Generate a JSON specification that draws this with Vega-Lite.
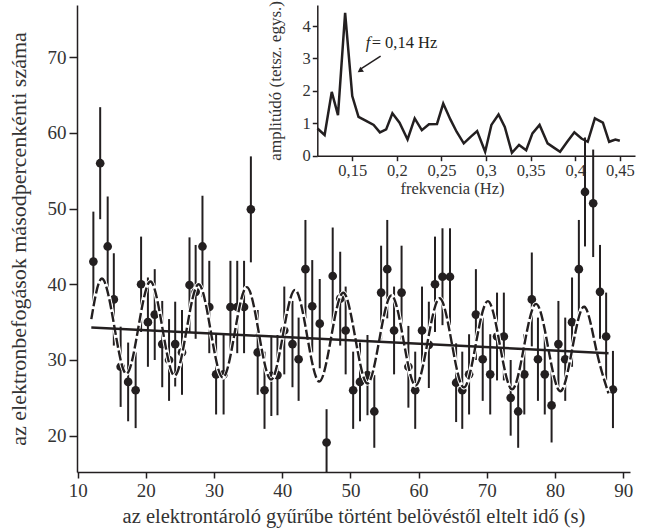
{
  "$schema": "https://vega.github.io/schema/vega-lite/v6.json",
  "width": 553,
  "height": 467,
  "autosize": {"type": "none"},
  "padding": {"left": 77, "top": 5, "right": 17, "bottom": 60},
  "background": "white",
  "datasets": {
    "pts": [
      {"t": 12.3, "n": 43.0, "lo": 36.4, "hi": 49.6},
      {"t": 13.3, "n": 56.0, "lo": 48.6, "hi": 63.4},
      {"t": 14.4, "n": 45.0, "lo": 38.4, "hi": 51.6},
      {"t": 15.3, "n": 38.0, "lo": 31.9, "hi": 44.1},
      {"t": 16.3, "n": 29.1, "lo": 23.8, "hi": 34.4},
      {"t": 17.4, "n": 27.1, "lo": 21.9, "hi": 32.3},
      {"t": 18.5, "n": 26.0, "lo": 21.0, "hi": 31.0},
      {"t": 19.3, "n": 40.0, "lo": 33.7, "hi": 46.3},
      {"t": 20.3, "n": 35.0, "lo": 29.1, "hi": 40.9},
      {"t": 21.3, "n": 36.0, "lo": 30.0, "hi": 42.0},
      {"t": 22.4, "n": 32.1, "lo": 26.4, "hi": 37.8},
      {"t": 23.4, "n": 30.0, "lo": 24.6, "hi": 35.4},
      {"t": 24.3, "n": 32.1, "lo": 26.5, "hi": 37.7},
      {"t": 25.3, "n": 31.0, "lo": 25.4, "hi": 36.6},
      {"t": 26.4, "n": 39.9, "lo": 33.6, "hi": 46.2},
      {"t": 27.3, "n": 39.0, "lo": 32.8, "hi": 45.2},
      {"t": 28.3, "n": 45.0, "lo": 38.3, "hi": 51.7},
      {"t": 29.3, "n": 37.0, "lo": 30.9, "hi": 43.1},
      {"t": 30.3, "n": 28.1, "lo": 22.8, "hi": 33.4},
      {"t": 31.4, "n": 28.1, "lo": 22.8, "hi": 33.4},
      {"t": 32.4, "n": 37.0, "lo": 30.9, "hi": 43.1},
      {"t": 33.4, "n": 37.0, "lo": 30.9, "hi": 43.1},
      {"t": 34.4, "n": 37.0, "lo": 30.9, "hi": 43.1},
      {"t": 35.4, "n": 49.9, "lo": 42.9, "hi": 56.9},
      {"t": 36.4, "n": 31.0, "lo": 25.4, "hi": 36.6},
      {"t": 37.4, "n": 26.0, "lo": 20.9, "hi": 31.1},
      {"t": 38.4, "n": 27.9, "lo": 22.6, "hi": 33.2},
      {"t": 39.3, "n": 28.0, "lo": 22.7, "hi": 33.3},
      {"t": 40.3, "n": 33.9, "lo": 28.1, "hi": 39.7},
      {"t": 41.5, "n": 32.1, "lo": 26.4, "hi": 37.8},
      {"t": 42.4, "n": 30.1, "lo": 24.6, "hi": 35.6},
      {"t": 43.4, "n": 42.0, "lo": 35.5, "hi": 48.5},
      {"t": 44.4, "n": 37.1, "lo": 31.0, "hi": 43.2},
      {"t": 45.5, "n": 34.8, "lo": 28.9, "hi": 40.7},
      {"t": 46.5, "n": 19.1, "lo": 14.7, "hi": 23.5},
      {"t": 47.4, "n": 41.1, "lo": 34.7, "hi": 47.5},
      {"t": 48.5, "n": 38.1, "lo": 31.9, "hi": 44.3},
      {"t": 49.3, "n": 33.9, "lo": 28.1, "hi": 39.7},
      {"t": 50.4, "n": 26.0, "lo": 20.9, "hi": 31.1},
      {"t": 51.4, "n": 27.1, "lo": 21.9, "hi": 32.3},
      {"t": 52.5, "n": 28.0, "lo": 22.7, "hi": 33.3},
      {"t": 53.5, "n": 23.2, "lo": 18.4, "hi": 28.0},
      {"t": 54.5, "n": 38.9, "lo": 32.7, "hi": 45.1},
      {"t": 55.4, "n": 42.0, "lo": 35.5, "hi": 48.5},
      {"t": 56.4, "n": 33.9, "lo": 28.1, "hi": 39.7},
      {"t": 57.5, "n": 38.9, "lo": 32.7, "hi": 45.1},
      {"t": 58.5, "n": 29.1, "lo": 23.7, "hi": 34.5},
      {"t": 59.5, "n": 26.0, "lo": 20.9, "hi": 31.1},
      {"t": 60.5, "n": 33.9, "lo": 28.1, "hi": 39.7},
      {"t": 61.5, "n": 32.0, "lo": 26.3, "hi": 37.7},
      {"t": 62.4, "n": 40.0, "lo": 33.7, "hi": 46.3},
      {"t": 63.5, "n": 41.0, "lo": 34.6, "hi": 47.4},
      {"t": 64.6, "n": 41.0, "lo": 34.6, "hi": 47.4},
      {"t": 65.5, "n": 27.0, "lo": 21.8, "hi": 32.2},
      {"t": 66.4, "n": 26.0, "lo": 20.9, "hi": 31.1},
      {"t": 67.4, "n": 28.1, "lo": 22.8, "hi": 33.4},
      {"t": 68.4, "n": 36.0, "lo": 30.0, "hi": 42.0},
      {"t": 69.4, "n": 30.1, "lo": 24.6, "hi": 35.6},
      {"t": 70.5, "n": 28.1, "lo": 22.8, "hi": 33.4},
      {"t": 71.5, "n": 33.1, "lo": 27.3, "hi": 38.9},
      {"t": 72.5, "n": 33.1, "lo": 27.3, "hi": 38.9},
      {"t": 73.5, "n": 25.0, "lo": 20.0, "hi": 30.0},
      {"t": 74.6, "n": 23.2, "lo": 18.4, "hi": 28.0},
      {"t": 75.5, "n": 28.1, "lo": 22.8, "hi": 33.4},
      {"t": 76.6, "n": 38.0, "lo": 31.8, "hi": 44.2},
      {"t": 77.5, "n": 30.1, "lo": 24.6, "hi": 35.6},
      {"t": 78.5, "n": 28.1, "lo": 22.8, "hi": 33.4},
      {"t": 79.5, "n": 24.0, "lo": 19.1, "hi": 28.9},
      {"t": 80.5, "n": 32.1, "lo": 26.4, "hi": 37.8},
      {"t": 81.5, "n": 30.1, "lo": 24.6, "hi": 35.6},
      {"t": 82.5, "n": 35.0, "lo": 29.1, "hi": 40.9},
      {"t": 83.5, "n": 42.0, "lo": 35.5, "hi": 48.5},
      {"t": 84.4, "n": 52.2, "lo": 45.0, "hi": 59.4},
      {"t": 85.6, "n": 50.7, "lo": 43.6, "hi": 57.8},
      {"t": 86.6, "n": 39.0, "lo": 32.8, "hi": 45.2},
      {"t": 87.5, "n": 33.1, "lo": 27.3, "hi": 38.9},
      {"t": 88.5, "n": 26.1, "lo": 21.0, "hi": 31.2}
    ],
    "curve": [
      {"t": 12.0, "n": 35.4}, {"t": 13.6, "n": 40.75}, {"t": 15.37, "n": 34.45}, {"t": 17.14, "n": 28.18},
      {"t": 18.9, "n": 34.29}, {"t": 20.67, "n": 40.37}, {"t": 22.44, "n": 34.14}, {"t": 24.2, "n": 27.93},
      {"t": 25.97, "n": 33.98}, {"t": 27.74, "n": 40.0}, {"t": 29.51, "n": 33.82}, {"t": 31.28, "n": 27.67},
      {"t": 33.04, "n": 33.66}, {"t": 34.81, "n": 39.62}, {"t": 36.58, "n": 33.51}, {"t": 38.35, "n": 27.41},
      {"t": 40.11, "n": 33.35}, {"t": 41.88, "n": 39.26}, {"t": 43.65, "n": 33.19}, {"t": 45.42, "n": 27.15},
      {"t": 47.18, "n": 33.03}, {"t": 48.95, "n": 38.89}, {"t": 50.72, "n": 32.88}, {"t": 52.49, "n": 26.9},
      {"t": 54.25, "n": 32.72}, {"t": 56.02, "n": 38.52}, {"t": 57.79, "n": 32.56}, {"t": 59.56, "n": 26.63},
      {"t": 61.32, "n": 32.41}, {"t": 63.09, "n": 38.15}, {"t": 64.86, "n": 32.25}, {"t": 66.63, "n": 26.38},
      {"t": 68.39, "n": 32.09}, {"t": 70.16, "n": 37.77}, {"t": 71.93, "n": 31.93}, {"t": 73.7, "n": 26.12},
      {"t": 75.46, "n": 31.78}, {"t": 77.23, "n": 37.41}, {"t": 79.0, "n": 31.62}, {"t": 80.77, "n": 25.86},
      {"t": 82.53, "n": 31.46}, {"t": 84.3, "n": 37.03}, {"t": 86.07, "n": 31.3}, {"t": 87.84, "n": 25.6}
    ],
    "trend": [
      {"t": 12.0, "n": 34.3},
      {"t": 87.85, "n": 30.9}
    ],
    "spec": [
      {"f": 0.111, "a": 0.84}, {"f": 0.119, "a": 0.64}, {"f": 0.127, "a": 1.97}, {"f": 0.134, "a": 1.25},
      {"f": 0.142, "a": 4.41}, {"f": 0.150, "a": 1.84}, {"f": 0.157, "a": 1.20}, {"f": 0.165, "a": 1.08},
      {"f": 0.174, "a": 0.95}, {"f": 0.181, "a": 0.72}, {"f": 0.188, "a": 0.81}, {"f": 0.195, "a": 1.31},
      {"f": 0.203, "a": 1.02}, {"f": 0.212, "a": 0.50}, {"f": 0.220, "a": 1.15}, {"f": 0.228, "a": 0.79},
      {"f": 0.236, "a": 0.97}, {"f": 0.245, "a": 0.98}, {"f": 0.252, "a": 1.61}, {"f": 0.260, "a": 1.12},
      {"f": 0.267, "a": 0.74}, {"f": 0.275, "a": 0.38}, {"f": 0.283, "a": 0.59}, {"f": 0.290, "a": 0.76},
      {"f": 0.299, "a": 0.12}, {"f": 0.306, "a": 0.95}, {"f": 0.314, "a": 1.27}, {"f": 0.321, "a": 0.89},
      {"f": 0.329, "a": 0.09}, {"f": 0.337, "a": 0.33}, {"f": 0.345, "a": 0.17}, {"f": 0.352, "a": 0.69},
      {"f": 0.360, "a": 0.95}, {"f": 0.369, "a": 0.38}, {"f": 0.376, "a": 0.25}, {"f": 0.383, "a": 0.12},
      {"f": 0.391, "a": 0.43}, {"f": 0.399, "a": 0.72}, {"f": 0.407, "a": 0.53}, {"f": 0.414, "a": 0.43},
      {"f": 0.422, "a": 1.15}, {"f": 0.431, "a": 1.02}, {"f": 0.438, "a": 0.43}, {"f": 0.445, "a": 0.50},
      {"f": 0.450, "a": 0.46}
    ],
    "ann": [
      {"f": 0.165, "a": 3.31, "f2": 0.1592, "a2": 2.67, "ft": 0.1818, "at": 3.07, "fh": 0.1586, "ah": 2.62}
    ]
  },
  "layer": [
    {
      "layer": [
        {
          "data": {"name": "pts"},
          "mark": {"type": "rule", "color": "#231f20", "strokeWidth": 2, "clip": true},
          "encoding": {
            "x": {"field": "t", "type": "quantitative", "scale": {"domain": [9.9, 91], "nice": false, "zero": false},
              "axis": {"values": [10, 20, 30, 40, 50, 60, 70, 80, 90], "title": "az elektrontároló gyűrűbe történt belövéstől eltelt idő (s)",
                "labelFont": "Liberation Serif", "titleFont": "Liberation Serif",
                "labelFontSize": 19, "titleFontSize": 20.5, "tickSize": 6, "labelPadding": 3, "titlePadding": 6, "labelFlush": false}},
            "y": {"field": "lo", "type": "quantitative", "scale": {"domain": [15.2, 76.9], "nice": false, "zero": false},
              "axis": {"values": [20, 30, 40, 50, 60, 70], "title": "az elektronbefogások másodpercenkénti száma",
                "labelFont": "Liberation Serif", "titleFont": "Liberation Serif",
                "labelFontSize": 19, "titleFontSize": 22, "tickSize": 8, "labelPadding": 3, "titlePadding": 17}},
            "y2": {"field": "hi"}
          }
        },
        {
          "data": {"name": "pts"},
          "mark": {"type": "point", "shape": "circle", "filled": true, "size": 75, "color": "#231f20", "opacity": 1},
          "encoding": {
            "x": {"field": "t", "type": "quantitative"},
            "y": {"field": "n", "type": "quantitative"}
          }
        },
        {
          "data": {"name": "curve"},
          "mark": {"type": "line", "interpolate": "natural", "color": "white", "strokeWidth": 4.5},
          "encoding": {
            "x": {"field": "t", "type": "quantitative"},
            "y": {"field": "n", "type": "quantitative"}
          }
        },
        {
          "data": {"name": "curve"},
          "mark": {"type": "line", "interpolate": "natural", "color": "#231f20", "strokeWidth": 2.4, "strokeDash": [10, 3]},
          "encoding": {
            "x": {"field": "t", "type": "quantitative"},
            "y": {"field": "n", "type": "quantitative"}
          }
        },
        {
          "data": {"name": "trend"},
          "mark": {"type": "line", "color": "#231f20", "strokeWidth": 2.5},
          "encoding": {
            "x": {"field": "t", "type": "quantitative"},
            "y": {"field": "n", "type": "quantitative"}
          }
        }
      ]
    },
    {
      "layer": [
        {
          "data": {"name": "spec"},
          "mark": {"type": "line", "color": "#231f20", "strokeWidth": 2.5},
          "encoding": {
            "x": {"field": "f", "type": "quantitative", "scale": {"domain": [0.1108, 0.467], "range": [240.3, 558], "nice": false, "zero": false},
              "axis": {"orient": "bottom", "offset": -316.3, "values": [0.15, 0.2, 0.25, 0.3, 0.35, 0.4, 0.45],
                "labelExpr": "replace(format(datum.value, '.2~f'), '.', ',')", "title": "frekvencia (Hz)",
                "labelFont": "Liberation Serif", "titleFont": "Liberation Serif",
                "labelFontSize": 16.5, "titleFontSize": 16.5, "tickSize": 5, "labelPadding": 2, "titlePadding": 1, "labelFlush": false,
                "titleX": 375}},
            "y": {"field": "a", "type": "quantitative", "scale": {"domain": [0, 4.65], "range": [150.7, 0], "nice": false, "zero": false},
              "axis": {"orient": "left", "offset": -240.3, "values": [0, 1, 2, 3, 4], "format": "d", "title": "amplitúdó (tetsz. egys.)",
                "labelFont": "Liberation Serif", "titleFont": "Liberation Serif",
                "labelFontSize": 16.5, "titleFontSize": 17, "tickSize": 5, "labelPadding": 2, "titlePadding": 18}}
          }
        },
        {
          "data": {"name": "ann"},
          "mark": {"type": "text", "text": "f", "fontStyle": "italic", "font": "Liberation Serif", "fontSize": 16.5, "align": "left", "baseline": "alphabetic", "color": "#231f20"},
          "encoding": {
            "x": {"field": "f", "type": "quantitative"},
            "y": {"field": "a", "type": "quantitative"}
          }
        },
        {
          "data": {"name": "ann"},
          "mark": {"type": "text", "text": "= 0,14 Hz", "font": "Liberation Serif", "fontSize": 16.5, "align": "left", "baseline": "alphabetic", "dx": 6, "color": "#231f20"},
          "encoding": {
            "x": {"field": "f", "type": "quantitative"},
            "y": {"field": "a", "type": "quantitative"}
          }
        },
        {
          "data": {"name": "ann"},
          "mark": {"type": "rule", "color": "#231f20", "strokeWidth": 1.5},
          "encoding": {
            "x": {"field": "ft", "type": "quantitative"},
            "y": {"field": "at", "type": "quantitative"},
            "x2": {"field": "f2"},
            "y2": {"field": "a2"}
          }
        },
        {
          "data": {"name": "ann"},
          "mark": {"type": "point", "shape": "triangle-up", "filled": true, "size": 40, "angle": 235, "color": "#231f20", "opacity": 1},
          "encoding": {
            "x": {"field": "fh", "type": "quantitative"},
            "y": {"field": "ah", "type": "quantitative"}
          }
        }
      ]
    }
  ],
  "resolve": {
    "scale": {"x": "independent", "y": "independent"},
    "axis": {"x": "independent", "y": "independent"}
  },
  "config": {
    "view": {"stroke": null},
    "axis": {
      "grid": false,
      "domainColor": "#231f20",
      "domainWidth": 1.5,
      "tickColor": "#231f20",
      "tickWidth": 1.5,
      "labelColor": "#333333",
      "titleColor": "#333333",
      "labelFont": "Liberation Serif",
      "titleFont": "Liberation Serif",
      "titleFontWeight": "normal"
    }
  }
}
